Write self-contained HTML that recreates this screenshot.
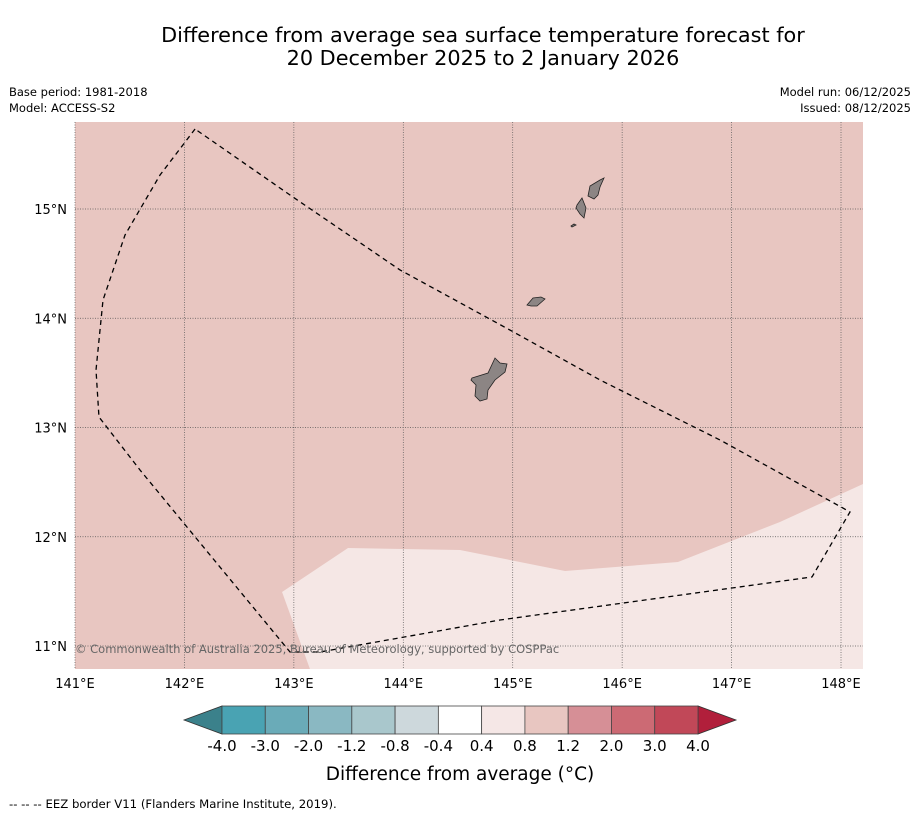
<!DOCTYPE html>
<html><head><meta charset="utf-8"><style>
body{margin:0;background:#fff;font-family:"DejaVu Sans","Liberation Sans",sans-serif;}
svg{display:block;font-family:"DejaVu Sans","Liberation Sans",sans-serif;}
</style></head><body>
<svg width="919" height="816" viewBox="0 0 919 816">
<text x="483" y="42" font-size="20.8" text-anchor="middle">Difference from average sea surface temperature forecast for</text>
<text x="483" y="65" font-size="20.8" text-anchor="middle">20 December 2025 to 2 January 2026</text>
<text x="9" y="96" font-size="11.5">Base period: 1981-2018</text>
<text x="9" y="112" font-size="11.5">Model: ACCESS-S2</text>
<text x="911" y="96" font-size="11.5" text-anchor="end">Model run: 06/12/2025</text>
<text x="911" y="112" font-size="11.5" text-anchor="end">Issued: 08/12/2025</text>
<g id="map"></g>
<g id="cbar"></g>
<text x="460" y="780" font-size="18.5" text-anchor="middle">Difference from average (°C)</text>
<text x="9" y="808" font-size="11.7">--  --  -- EEZ border V11 (Flanders Marine Institute, 2019).</text>
</svg>
<script>
const lonTicks=[141,142,143,144,145,146,147,148];
const latTicks=[11,12,13,14,15];
const eezLon=[142.097,141.777,141.457,141.256,141.192,141.219,141.594,142.234,142.965,143.239,144.884,147.735,148.082,146.894,145.798,144.975,143.970,142.965,142.097];
const eezLat=[15.732,15.311,14.762,14.167,13.526,13.096,12.611,11.833,10.945,10.945,11.238,11.632,12.227,12.886,13.435,13.892,14.442,15.128,15.732];
const warmLon=[142.892,143.495,144.518,145.478,146.510,147.442,148.201,148.201,143.147];
const warmLat=[11.494,11.897,11.879,11.686,11.769,12.135,12.483,10.789,10.789];
const cbLevels=["-4.0","-3.0","-2.0","-1.2","-0.8","-0.4","0.4","0.8","1.2","2.0","3.0","4.0"];
const cbColors=["#49a3b3","#6aabb8","#8ab8c2","#a9c7cc","#cdd8dc","#ffffff","#f5e7e6","#e8c6c1","#d68f96","#cc6a74","#c14858"];
const NS="http://www.w3.org/2000/svg";
const L=75,R=863,T=122,B=669;
const xS=lon=>75+(lon-141)*109.43;
const yS=lat=>209-(lat-15)*109.25;
function mk(tag,at,parent){const e=document.createElementNS(NS,tag);for(const k in at)e.setAttribute(k,at[k]);parent.appendChild(e);return e;}
const map=document.getElementById('map');
let e=mk('rect',{x:L,y:T,width:R-L,height:B-T,fill:'#e8c6c1'},map);


e=mk('polygon',{points:warmLon.map((v,i)=>xS(v)+','+yS(warmLat[i])).join(' '),fill:'#f5e7e5'},map);


lonTicks.forEach(v=>{const x=xS(v);
 const g=mk('line',{x1:x,x2:x,y1:T,y2:B,stroke:'#555','stroke-width':0.7,'stroke-dasharray':'1,1.5'},map);
 
 
 const t=mk('text',{x:x,y:688,'font-size':13,'text-anchor':'middle'},map);t.textContent=v+'°E';
 
 });
latTicks.forEach(v=>{const y=yS(v);
 const g=mk('line',{x1:L,x2:R,y1:y,y2:y,stroke:'#555','stroke-width':0.7,'stroke-dasharray':'1,1.5'},map);
 
 
 const t=mk('text',{x:67,y:y+5,'font-size':13,'text-anchor':'end'},map);t.textContent=v+'°N';
 
 });
const isl=[["guam","472,378 488,373 495,358 500,363 507,364 505,372 495,380 488,390 487,399 480,401 475,396 476,385 471,380"],
["rota","527,305 533,298 541,297 545,299 537,306 531,306"],
["tinian","577,205 582,198 586,208 584,218 580,214 576,208"],
["saipan","588,196 590,186 600,180 604,178 600,187 598,195 594,199"],
["aguijan","571,226 574,224 576,225 572,227"]];
isl.forEach(a=>{const p=mk('polygon',{points:a[1],fill:'#8c8584',stroke:'#222','stroke-width':0.8},map);
 
 });
e=mk('polyline',{points:eezLon.map((v,i)=>xS(v)+','+yS(eezLat[i])).join(' '),fill:'none',stroke:'#000','stroke-width':1.3,'stroke-dasharray':'5,4'},map);


e=mk('text',{x:75,y:653,'font-size':11.5,fill:'#666'},map);e.textContent='© Commonwealth of Australia 2025, Bureau of Meteorology, supported by COSPPac';


const cb=document.getElementById('cbar');
const c0=222,c1=698,cy0=706,cy1=734,n=cbColors.length,w=(c1-c0)/n;
e=mk('polygon',{points:`${c0},${cy0} ${c0},${cy1} 184,720`,fill:'#3b818b',stroke:'#333','stroke-width':0.8},cb);


e=mk('polygon',{points:`${c1},${cy0} ${c1},${cy1} 736,720`,fill:'#b11f3b',stroke:'#333','stroke-width':0.8},cb);


cbColors.forEach((c,i)=>{const r=mk('rect',{x:c0+i*w,y:cy0,width:w,height:cy1-cy0,fill:c,stroke:'#444','stroke-width':0.8},cb);
 
 });
cbLevels.forEach((l,i)=>{const t=mk('text',{x:c0+i*w,y:751,'font-size':15,'text-anchor':'middle'},cb);t.textContent=l;
 
 });
</script>
</body></html>
